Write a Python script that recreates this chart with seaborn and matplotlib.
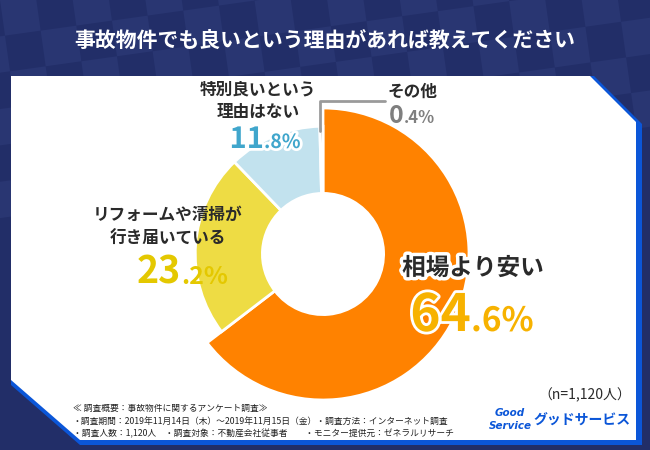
import numpy as np
import matplotlib
matplotlib.use('Agg')
import matplotlib.pyplot as plt
import matplotlib.patheffects as pe
from matplotlib.patches import Polygon, Rectangle
from matplotlib.lines import Line2D
import seaborn as sns

# chart data
categories = ['相場より安い', 'リフォームや清掃が\n行き届いている', '特別良いという\n理由はない', 'その他']
shares = [64.6, 23.2, 11.8, 0.4]
slice_colors = ['#ff8200', '#eedc44', '#c2e2ee', '#8e8e8e']
title = '事故物件でも良いという理由があれば教えてください'
sample_note = '（n=1,120人）'
notes = ['≪ 調査概要：事故物件に関するアンケート調査≫',
         '・調査期間：2019年11月14日（木）～2019年11月15日（金）・調査方法：インターネット調査',
         '・調査人数：1,120人　・調査対象：不動産会社従事者　　・モニター提供元：ゼネラルリサーチ']

sns.set_theme(style='white')
plt.rcParams['font.family'] = ['Noto Sans CJK JP', 'DejaVu Sans']

navy = '#222e68'
navy_light = '#293672'
blue = '#0b56d8'

fig = plt.figure(figsize=(6.5, 4.5), dpi=100)

# background in pixel coordinates
bg = fig.add_axes([0, 0, 1, 1])
bg.set_xlim(0, 650)
bg.set_ylim(450, 0)
bg.axis('off')
bg.add_patch(Rectangle((0, 0), 650, 450, color=navy, zorder=0))

# faint checker pattern
ang = np.deg2rad(-8)
rot = np.array([[np.cos(ang), -np.sin(ang)], [np.sin(ang), np.cos(ang)]])
sq = 36
for i in range(-3, 24):
    for j in range(-3, 6):
        if (i + j) % 2:
            continue
        corners = np.array([[i * sq, j * sq], [(i + 1) * sq, j * sq],
                            [(i + 1) * sq, (j + 1) * sq], [i * sq, (j + 1) * sq]])
        corners = corners @ rot.T
        bg.add_patch(Polygon(corners, closed=True, color=navy_light, lw=0, zorder=1))

bg.add_patch(Polygon([(11, 76), (594, 76), (642, 124), (642, 445), (80, 445), (11, 385)],
                     closed=True, color=blue, lw=0, zorder=2))
bg.add_patch(Polygon([(11, 76), (590, 76), (636, 122), (636, 440), (80, 440), (11, 380)],
                     closed=True, color='white', lw=0, zorder=3))

# donut
cx, cy, R = 323, 254, 146
half = 1.25 * R
pie_ax = fig.add_axes([(cx - half) / 650, (450 - cy - half) / 450, 2 * half / 650, 2 * half / 450])
pie_ax.set_zorder(1)
wedges, _ = pie_ax.pie(shares, colors=slice_colors, startangle=90, counterclock=False,
                       radius=0.875, wedgeprops=dict(width=0.875 - 0.415, edgecolor='white', linewidth=2))
wedges[0].set_radius(1.0)
wedges[0].set_width(1.0 - 0.415)
pie_ax.set_xlim(-1.25, 1.25)
pie_ax.set_ylim(-1.25, 1.25)
pie_ax.set_aspect('equal')
pie_ax.axis('off')


def px(x, y, s, **kw):
    return fig.text(x, y, s, transform=bg.transData, **kw)


px(325, 40, title, color='white', fontsize=15, fontweight='bold', ha='center', va='center')

white_edge = [pe.Stroke(linewidth=4, foreground='white'), pe.Normal()]
dark = '#2a2a2a'

# category labels
label_pos = [(473, 268), (168, 227), (258, 101), (412, 92)]
label_size = [17, 12, 12, 12]
for k, (lab, (x, y), fs) in enumerate(zip(categories, label_pos, label_size)):
    t = px(x, y, lab, color=dark, fontsize=fs, fontweight='bold', ha='center', va='center',
           linespacing=1.4 if k == 1 else 1.3)
    if k == 0:
        t.set_path_effects([pe.Stroke(linewidth=5, foreground='white'), pe.Normal()])

# percent values, large integer part + smaller decimal part
pct_pos = [(471, 331), (181, 284), (264, 148), (404, 123)]
pct_size = [(37, 24), (27, 18), (21, 14), (18, 12)]
pct_color = ['#f7b200', '#e4c800', '#40a6cc', '#7f7f7f']
for v, (x, y), (fi, fd), c in zip(shares, pct_pos, pct_size, pct_color):
    ip, dp = f'{v:.1f}'.split('.')
    effects = white_edge if c in ('#f7b200', '#40a6cc') else None
    a = px(x, y, ip, color=c, fontsize=fi, fontweight='bold', ha='right', va='baseline')
    b = px(x, y, '.' + dp + '%', color=c, fontsize=fd, fontweight='bold', ha='left', va='baseline')
    if effects:
        a.set_path_effects(effects)
        b.set_path_effects(effects)

# leader line for the small slice
fig.add_artist(Line2D([320, 320, 385], [131, 101, 101], color='#9a9a9a', lw=2,
                      transform=bg.transData, zorder=2))

px(585, 395, sample_note, color=dark, fontsize=10, ha='center', va='center')
for k, line in enumerate(notes):
    px(73, 408 + 13 * k, line, color='#222222', fontsize=6.3, ha='left', va='center')

logo_font = ['DejaVu Sans']
px(510, 413, 'Good', color=blue, fontsize=7.5, fontweight='bold', style='italic',
   family=logo_font, ha='center', va='center')
px(510, 426, 'Service', color=blue, fontsize=7.5, fontweight='bold', style='italic',
   family=logo_font, ha='center', va='center')
px(582, 421, 'グッドサービス', color=blue, fontsize=10, fontweight='bold', ha='center', va='center')

fig.savefig('out.png', dpi=100)
